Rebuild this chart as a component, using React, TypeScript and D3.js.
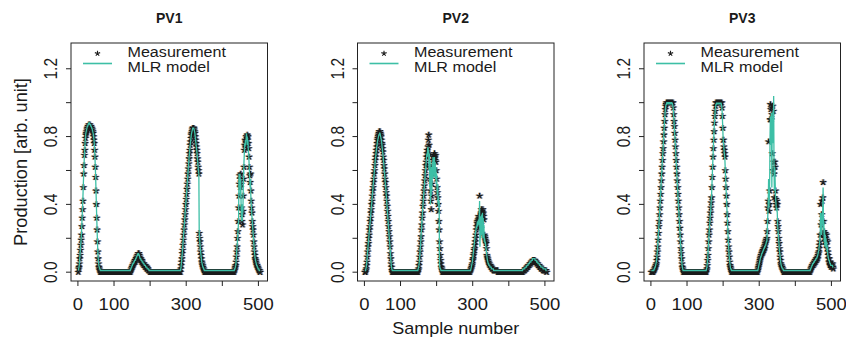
import React from 'react';
import * as d3 from 'd3';

// ---------- data (values in hundredths of arb. unit), samples 1..505 ----------
const pv1Measurement = [
0,2,3,5,8,10,13,16,19,22, 27,32,37,42,50,58,63,69,72,76,
79,81,82,83,84,85,85,86,86,87, 87,87,87,86,86,86,85,85,84,84,
83,82,80,78,76,72,68,62,56,48, 40,32,25,18,12,8,5,3,2,1,
1,0,0,0,0,0,0,0,0,0, 0,0,0,0,0,0,0,0,0,0,
0,0,0,0,0,0,0,0,0,0, 0,0,0,0,0,0,0,0,0,0,
0,0,0,0,0,0,0,0,0,0, 0,0,0,0,0,0,0,0,0,0,
0,0,0,0,0,0,0,0,0,0, 0,0,0,0,0,0,0,0,0,0,
0,0,0,0,0,1,1,2,2,3, 3,4,4,5,5,6,6,7,6,7,
8,8,9,9,10,10,11,11,11,10, 9,8,7,8,7,6,7,6,5,5,
5,4,5,4,4,3,4,3,3,2, 3,2,2,2,1,1,1,1,1,0,
0,0,0,0,0,0,0,0,0,0, 0,0,0,0,0,0,0,0,0,0,
0,0,0,0,0,0,0,0,0,0, 0,0,0,0,0,0,0,0,0,0,
0,0,0,0,0,0,0,0,0,0, 0,0,0,0,0,0,0,0,0,0,
0,0,0,0,0,0,0,0,0,0, 0,0,0,0,0,0,0,0,0,0,
0,0,0,0,2,4,6,8,11,13, 16,19,22,25,28,31,34,37,40,43,
46,49,52,55,58,61,64,67,70,72, 75,77,79,81,82,83,84,85,85,85,
85,84,83,82,80,78,76,74,72,70, 67,65,62,60,58,23,20,18,15,12,
10,8,6,5,4,3,2,2,1,1, 0,0,0,0,0,0,0,0,0,0,
0,0,0,0,0,0,0,0,0,0, 0,0,0,0,0,0,0,0,0,0,
0,0,0,0,0,0,0,0,0,0, 0,0,0,0,0,0,0,0,0,0,
0,0,0,0,0,0,0,0,0,0, 0,0,0,0,0,0,0,0,0,0,
0,0,0,0,0,0,0,0,0,0, 0,0,1,1,2,3,4,6,9,12,
15,20,24,30,38,45,52,57,55,50, 58,52,38,30,34,28,36,45,55,62,
72,75,78,74,77,80,76,79,81,78, 80,76,73,68,62,57,53,58,48,42,
38,35,30,27,25,22,18,15,12,10, 8,7,6,5,4,4,3,3,2,2,
1,1,1,0,0
];
const pv1Model = [
1,2,3,5,8,11,14,17,20,24, 29,34,39,45,52,58,64,69,73,77,
80,82,83,84,85,86,86,87,87,88, 88,88,87,87,87,86,86,85,85,84,
83,82,81,79,77,73,69,63,57,49, 41,33,26,19,13,9,6,4,3,2,
2,1,1,1,1,1,1,1,1,1, 1,1,1,1,1,1,1,1,1,1,
1,1,1,1,1,1,1,1,1,1, 1,1,1,1,1,1,1,1,1,1,
1,1,1,1,1,1,1,1,1,1, 1,1,1,1,1,1,1,1,1,1,
1,1,1,1,1,1,1,1,1,1, 1,1,1,1,1,1,1,1,1,1,
1,1,1,1,1,2,2,3,3,4, 4,5,5,5,6,6,7,7,7,8,
8,9,9,10,10,11,11,11,10,10, 9,8,8,8,7,7,7,6,6,6,
5,5,5,4,4,4,4,3,3,3, 3,2,2,2,2,2,1,1,1,1,
1,1,1,1,1,1,1,1,1,1, 1,1,1,1,1,1,1,1,1,1,
1,1,1,1,1,1,1,1,1,1, 1,1,1,1,1,1,1,1,1,1,
1,1,1,1,1,1,1,1,1,1, 1,1,1,1,1,1,1,1,1,1,
1,1,1,1,1,1,1,1,1,1, 1,1,1,1,1,1,1,1,1,1,
1,1,1,1,2,4,6,9,11,14, 17,20,23,26,29,32,35,38,41,44,
47,50,53,56,59,62,65,68,70,73, 75,77,79,81,82,83,84,85,85,85,
85,84,83,82,80,78,76,74,72,70, 67,65,62,60,58,24,20,17,14,12,
10,8,6,5,4,3,3,2,2,1, 1,1,1,1,1,1,1,1,1,1,
1,1,1,1,1,1,1,1,1,1, 1,1,1,1,1,1,1,1,1,1,
1,1,1,1,1,1,1,1,1,1, 1,1,1,1,1,1,1,1,1,1,
1,1,1,1,1,1,1,1,1,1, 1,1,1,1,1,1,1,1,1,1,
1,1,1,1,1,1,1,1,1,1, 1,1,1,2,2,3,4,6,9,13,
16,18,22,26,30,55,58,50,58,45, 55,40,30,38,30,40,35,50,58,65,
70,76,74,78,75,79,82,78,80,75, 78,72,70,65,60,55,50,55,45,40,
37,33,30,27,24,21,18,15,12,10, 8,7,6,5,4,4,3,3,2,2,
2,1,1,1,1
];

const pv2Measurement = [
0,0,0,1,2,4,6,9,12,15, 17,20,22,25,27,30,32,35,37,40,
42,45,48,50,53,55,58,60,63,66, 68,70,72,74,76,78,79,80,81,82,
83,83,83,82,81,80,78,76,75,73, 71,68,66,63,61,58,55,53,50,47,
45,42,39,36,33,30,27,24,21,18, 15,11,8,5,3,1,0,0,0,0,
0,0,0,0,0,0,0,0,0,0, 0,0,0,0,0,0,0,0,0,0,
0,0,0,0,0,0,0,0,0,0, 0,0,0,0,0,0,0,0,0,0,
0,0,0,0,0,0,0,0,0,0, 0,0,0,0,0,0,0,0,0,0,
0,0,0,0,0,0,0,0,1,2, 4,6,9,12,15,18,21,25,28,32,
35,39,42,45,48,51,54,57,60,63, 65,68,70,72,68,74,78,81,75,70,
62,55,48,42,37,45,52,58,63,66, 68,69,67,70,68,66,69,65,60,55,
50,47,44,40,36,30,25,18,14,10, 7,5,3,2,1,0,0,0,0,0,
0,0,0,0,0,0,0,0,0,0, 0,0,0,0,0,0,0,0,0,0,
0,0,0,0,0,0,0,0,0,0, 0,0,0,0,0,0,0,0,0,0,
0,0,0,0,0,0,0,0,0,0, 0,0,0,0,0,0,0,0,0,0,
0,0,0,0,0,0,0,0,0,0, 0,0,1,1,2,2,3,4,5,7,
8,10,11,13,14,16,18,20,22,25, 27,29,30,28,31,33,32,30,45,28,
33,26,35,37,30,36,34,37,35,33, 31,22,21,20,19,18,17,14,10,9,
8,7,6,6,5,5,4,4,4,3, 3,3,2,2,2,2,2,1,1,1,
1,1,1,1,1,1,1,1,1,0, 0,0,0,0,0,0,0,0,0,0,
0,0,0,0,0,0,0,0,0,0, 0,0,0,0,0,0,0,0,0,0,
0,0,0,0,0,0,0,0,0,0, 0,0,0,0,0,0,0,0,0,0,
0,0,0,0,0,0,0,0,0,0, 0,0,0,0,0,0,0,0,1,1,
1,1,1,1,2,2,2,2,2,3, 3,3,3,4,4,4,4,5,5,5,
5,6,6,6,6,7,7,7,7,7, 7,7,6,6,6,6,5,5,5,5,
4,4,4,4,3,3,3,3,2,2, 2,2,2,2,1,1,1,1,1,1,
1,1,1,0,0
];
const pv2Model = [
1,1,1,2,3,5,7,10,13,15, 18,20,23,25,28,30,33,35,38,40,
43,46,48,51,53,56,58,61,63,66, 68,70,72,74,75,77,78,79,80,81,
81,82,82,81,80,79,78,76,74,72, 70,68,65,63,60,58,55,52,50,47,
44,41,38,35,32,29,26,23,20,17, 14,11,8,5,3,2,1,1,1,1,
1,1,1,1,1,1,1,1,1,1, 1,1,1,1,1,1,1,1,1,1,
1,1,1,1,1,1,1,1,1,1, 1,1,1,1,1,1,1,1,1,1,
1,1,1,1,1,1,1,1,1,1, 1,1,1,1,1,1,1,1,1,1,
1,1,1,1,1,1,1,1,2,3, 4,6,9,12,15,18,22,25,29,32,
36,39,42,45,48,51,54,57,60,62, 65,67,70,68,72,74,70,72,60,70,
50,66,40,60,45,62,48,65,55,68, 60,67,56,68,60,65,55,62,52,58,
50,45,52,40,45,38,42,4,3,2, 2,1,1,1,1,1,1,1,1,1,
1,1,1,1,1,1,1,1,1,1, 1,1,1,1,1,1,1,1,1,1,
1,1,1,1,1,1,1,1,1,1, 1,1,1,1,1,1,1,1,1,1,
1,1,1,1,1,1,1,1,1,1, 1,1,1,1,1,1,1,1,1,1,
1,1,1,1,1,1,1,1,1,1, 1,1,1,1,2,3,4,5,6,8,
10,12,14,16,18,20,22,24,25,27, 26,28,30,27,29,31,28,32,42,15,
30,20,33,22,34,25,35,20,32,22, 28,18,20,17,18,15,14,12,10,8,
7,6,5,5,4,4,4,3,3,3, 3,2,2,2,2,2,2,1,1,1,
1,1,1,1,1,1,1,1,1,1, 1,1,1,1,1,1,1,1,1,1,
1,1,1,1,1,1,1,1,1,1, 1,1,1,1,1,1,1,1,1,1,
1,1,1,1,1,1,1,1,1,1, 1,1,1,1,1,1,1,1,1,1,
1,1,1,1,1,1,1,1,1,1, 1,1,1,1,1,1,1,1,2,2,
2,2,2,2,3,3,3,3,3,4, 4,4,4,5,5,5,5,6,6,6,
6,7,7,7,7,8,8,8,8,8, 8,8,7,7,7,7,6,6,6,6,
5,5,5,5,4,4,4,4,3,3, 3,3,3,3,2,2,2,2,2,2,
2,2,1,1,1
];

const pv3Measurement = [
0,0,0,0,0,0,1,1,1,2, 2,3,3,4,5,7,9,12,15,19,
23,27,30,34,38,42,46,50,54,58, 62,66,70,73,77,81,85,89,93,96,
98,99,100,100,100,100,100,100,100,100, 100,100,100,100,100,100,100,100,100,100,
100,97,93,89,86,82,78,74,70,66, 62,58,54,50,46,42,38,34,30,26,
22,18,14,11,8,5,3,2,1,0, 0,0,0,0,0,0,0,0,0,0,
0,0,0,0,0,0,0,0,0,0, 0,0,0,0,0,0,0,0,0,0,
0,0,0,0,0,0,0,0,0,0, 0,0,0,0,0,0,0,0,0,0,
0,0,0,0,0,0,0,0,0,0, 0,0,0,1,2,4,7,10,14,18,
22,25,29,32,35,38,41,44,50,56, 62,68,73,78,83,88,92,95,98,100,
100,100,100,100,100,100,100,100,100,100, 100,100,100,100,100,100,97,92,85,78,
78,74,72,70,68,60,55,50,45,40, 34,29,24,19,15,12,9,6,4,3,
2,1,0,0,0,0,0,0,0,0, 0,0,0,0,0,0,0,0,0,0,
0,0,0,0,0,0,0,0,0,0, 0,0,0,0,0,0,0,0,0,0,
0,0,0,0,0,0,0,0,0,0, 0,0,0,0,0,0,0,0,0,0,
0,0,0,0,0,0,0,0,0,0, 0,0,0,0,0,1,2,3,4,5,
6,7,8,9,10,10,11,12,11,13, 12,14,13,15,14,16,17,18,19,19,
20,24,30,38,42,77,36,40,48,90, 99,96,90,97,93,70,98,60,95,65,
58,44,65,62,48,43,40,38,42,40, 30,27,24,20,17,14,12,9,7,5,
4,3,3,2,2,1,1,0,0,0, 0,0,0,0,0,0,0,0,0,0,
0,0,0,0,0,0,0,0,0,0, 0,0,0,0,0,0,0,0,0,0,
0,0,0,0,0,0,0,0,0,0, 0,0,0,0,0,0,0,0,0,0,
0,0,0,0,0,0,0,0,0,0, 0,0,0,0,0,0,0,0,0,0,
1,1,2,2,3,3,4,4,5,4, 5,6,5,6,7,6,7,8,7,8,
9,8,10,11,12,14,16,18,22,40, 28,22,34,42,30,44,53,30,24,20,
22,18,23,20,16,22,19,14,18,12, 10,8,6,8,5,4,6,4,3,5,
4,3,5,3,2
];
const pv3Model = [
1,1,1,1,1,1,1,1,2,2, 3,3,4,5,6,8,10,13,16,20,
24,27,31,35,39,43,47,51,55,59, 63,67,70,74,78,82,86,90,93,96,
98,99,99,100,100,99,100,100,99,100, 100,99,100,100,99,100,100,99,100,99,
98,96,92,89,85,81,77,73,69,65, 61,57,53,49,45,41,37,33,29,25,
21,17,14,10,7,5,3,2,1,1, 1,1,1,1,1,1,1,1,1,1,
1,1,1,1,1,1,1,1,1,1, 1,1,1,1,1,1,1,1,1,1,
1,1,1,1,1,1,1,1,1,1, 1,1,1,1,1,1,1,1,1,1,
1,1,1,1,1,1,1,1,1,1, 1,1,1,2,3,5,7,11,14,18,
22,26,29,32,35,38,42,45,51,57, 63,68,74,79,84,88,92,95,97,99,
99,100,99,100,99,100,99,100,99,100, 99,100,99,100,99,98,96,91,85,79,
76,74,71,69,66,60,55,50,45,40, 35,30,25,20,16,12,9,7,5,3,
2,2,1,1,1,1,1,1,1,1, 1,1,1,1,1,1,1,1,1,1,
1,1,1,1,1,1,1,1,1,1, 1,1,1,1,1,1,1,1,1,1,
1,1,1,1,1,1,1,1,1,1, 1,1,1,1,1,1,1,1,1,1,
1,1,1,1,1,1,1,1,1,1, 1,1,1,1,1,1,2,3,4,5,
6,7,8,9,9,10,11,11,12,12, 13,13,14,14,15,15,16,16,17,18,
18,22,28,35,40,55,38,45,55,80, 92,88,75,94,50,90,76,95,78,104,
60,48,62,55,45,42,38,36,38,35, 28,25,22,19,16,13,11,9,7,5,
4,3,3,2,2,2,1,1,1,1, 1,1,1,1,1,1,1,1,1,1,
1,1,1,1,1,1,1,1,1,1, 1,1,1,1,1,1,1,1,1,1,
1,1,1,1,1,1,1,1,1,1, 1,1,1,1,1,1,1,1,1,1,
1,1,1,1,1,1,1,1,1,1, 1,1,1,1,1,1,1,1,1,1,
1,2,2,3,3,4,4,5,5,5, 6,6,6,7,7,7,8,8,8,9,
9,10,11,12,13,15,17,19,23,35, 25,30,22,35,28,38,50,25,30,18,
25,15,22,17,20,14,18,12,15,10, 9,8,7,7,6,5,5,4,4,4,
4,4,4,3,3
];

const panelTitles = ['PV1', 'PV2', 'PV3'];
const measurementSeries = [pv1Measurement, pv2Measurement, pv3Measurement];
const modelSeries = [pv1Model, pv2Model, pv3Model];
const xTickValues = [0, 100, 200, 300, 400, 500];
const xTickLabels = ['0', '100', '', '300', '', '500'];
const yTickValues = [0, 0.2, 0.4, 0.6, 0.8, 1.0, 1.2];
const yTickLabels = ['0.0', '', '0.4', '', '0.8', '', '1.2'];
const legendLabels = ['Measurement', 'MLR model'];
const xAxisTitle = 'Sample number';
const yAxisTitle = 'Production [arb. unit]';

// ---------- layout ----------
const WIDTH = 846;
const HEIGHT = 344;
const BOX_TOP = 43;
const BOX_BOTTOM = 281;
const BOX_W = 196.5;
const BOX_LEFTS = [71, 357.5, 644];
const FONT = '"Liberation Sans", Arial, Helvetica, sans-serif';
const LINE_COLOR = '#3dbfa6';
const INK = '#1a1a1a';
const STAR_R = 3.2;

function asteriskPath(points: [number, number][], dx: number, r: number): string {
  const angles = [-90, -18, 54, 126, 198].map((a) => (a * Math.PI) / 180);
  let d = '';
  for (const [px, py] of points) {
    const cx = px + dx;
    for (const a of angles) {
      d += `M${cx.toFixed(2)},${py.toFixed(2)}L${(cx + r * Math.cos(a)).toFixed(2)},${(py + r * Math.sin(a)).toFixed(2)}`;
    }
  }
  return d;
}

function Panel({ k }: { k: number }) {
  const meas = measurementSeries[k];
  const model = modelSeries[k];
  const n = meas.length;
  const L = BOX_LEFTS[k];
  const pad = 0.04 * (n - 1);
  const x = d3.scaleLinear().domain([1 - pad, n + pad]).range([L, L + BOX_W]);
  const y = d3.scaleLinear().domain([-0.052, 1.352]).range([BOX_BOTTOM, BOX_TOP]);

  const pts: [number, number][] = meas.map((v, i) => [x(i + 1), y(v / 100)]);
  const line = d3
    .line<number>()
    .x((_, i) => x(i + 1))
    .y((v) => y(v / 100));

  const legendStar: [number, number][] = [[L + 26.5, 53.5]];

  return (
    <g>
      <text x={L + BOX_W / 2} y={22.5} textAnchor="middle" fontWeight="bold" fontSize={14} fill={INK}>
        {panelTitles[k]}
      </text>
      {/* stars with slight colour fringes */}
      <path d={asteriskPath(pts, -0.9, STAR_R)} stroke="#e0923c" strokeWidth={1.2} opacity={0.75} fill="none" />
      <path d={asteriskPath(pts, 0.9, STAR_R)} stroke="#3f73b8" strokeWidth={1.2} opacity={0.75} fill="none" />
      <path d={asteriskPath(pts, 0, STAR_R)} stroke={INK} strokeWidth={1.1} fill="none" />
      <path d={line(model) || ''} stroke={LINE_COLOR} strokeWidth={1.3} fill="none" />
      <rect x={L} y={BOX_TOP} width={BOX_W} height={BOX_BOTTOM - BOX_TOP} fill="none" stroke="#222" strokeWidth={1} />
      {yTickValues.map((t, i) => (
        <g key={'y' + i}>
          <line x1={L - 5} x2={L} y1={y(t)} y2={y(t)} stroke="#222" />
          {yTickLabels[i] && (
            <text
              transform={`translate(${L - 14},${y(t)}) rotate(-90) scale(1,1.15)`}
              textAnchor="middle"
              fontSize={15.5}
              fill={INK}
            >
              {yTickLabels[i]}
            </text>
          )}
        </g>
      ))}
      {xTickValues.map((t, i) => (
        <g key={'x' + i}>
          <line x1={x(t)} x2={x(t)} y1={BOX_BOTTOM} y2={BOX_BOTTOM + 5} stroke="#222" />
          {xTickLabels[i] && (
            <text
              transform={`translate(${x(t)},310) scale(1.12,1)`}
              textAnchor="middle"
              fontSize={16.5}
              fill={INK}
            >
              {xTickLabels[i]}
            </text>
          )}
        </g>
      ))}
      {/* legend */}
      <path d={asteriskPath(legendStar, 0, 2.8)} stroke={INK} strokeWidth={1.1} fill="none" />
      <line x1={L + 12} x2={L + 41} y1={63.5} y2={63.5} stroke={LINE_COLOR} strokeWidth={1.6} />
      <text transform={`translate(${L + 56.5},57) scale(1.06,1)`} fontSize={15.2} fill={INK}>
        {legendLabels[0]}
      </text>
      <text transform={`translate(${L + 56.5},72.3) scale(1.06,1)`} fontSize={15.2} fill={INK}>
        {legendLabels[1]}
      </text>
    </g>
  );
}

export default function App() {
  return (
    <svg
      width={WIDTH}
      height={HEIGHT}
      style={{ position: 'absolute', left: 0, top: 0, display: 'block', background: '#fff' }}
      fontFamily={FONT}
    >
      <rect width={WIDTH} height={HEIGHT} fill="#fff" />
      {[0, 1, 2].map((k) => (
        <Panel key={k} k={k} />
      ))}
      <text
        transform={`translate(${BOX_LEFTS[1] + BOX_W / 2},334) scale(1.06,1)`}
        textAnchor="middle"
        fontSize={17}
        fill={INK}
      >
        {xAxisTitle}
      </text>
      <text transform={`translate(27,162) rotate(-90)`} textAnchor="middle" fontSize={18.2} fill={INK}>
        {yAxisTitle}
      </text>
    </svg>
  );
}
